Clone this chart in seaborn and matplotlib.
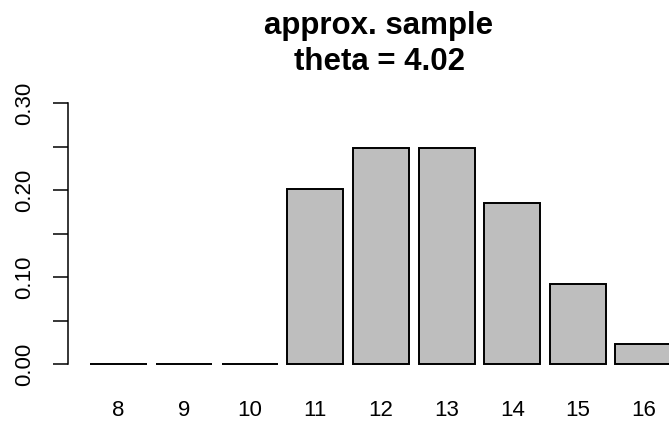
import matplotlib
matplotlib.use("Agg")
import matplotlib.pyplot as plt
import seaborn as sns
import pandas as pd

# Relative frequencies of the approximate sample
values = [8, 9, 10, 11, 12, 13, 14, 15, 16]
freqs = [0.0, 0.0, 0.0, 0.201, 0.248, 0.248, 0.185, 0.092, 0.023]
ytick_vals = [0.00, 0.05, 0.10, 0.15, 0.20, 0.25, 0.30]
ytick_labels = ["0.00", "", "0.10", "", "0.20", "", "0.30"]
title = "approx. sample\ntheta = 4.02"

sns.set_style("white")
plt.rcParams["font.family"] = ["Liberation Sans", "DejaVu Sans"]
plt.rcParams["text.color"] = "black"
plt.rcParams["xtick.color"] = "black"
plt.rcParams["ytick.color"] = "black"

df = pd.DataFrame({"value": [str(v) for v in values], "freq": freqs})

fig = plt.figure(figsize=(6.69, 4.25), dpi=100)
ax = fig.add_axes([68 / 669, 50 / 425, 601 / 669, 280 / 425])

sns.barplot(data=df, x="value", y="freq", order=[str(v) for v in values],
            color="#BEBEBE", saturation=1, width=0.855,
            edgecolor="black", linewidth=1.4, ax=ax)
for p in ax.patches:
    p.set_facecolor("#BEBEBE")
    p.set_clip_on(False)

ax.set_xlim(-0.77, 8.39)
ax.set_ylim(-0.0126, 0.3092)

for s in ["top", "right", "bottom"]:
    ax.spines[s].set_visible(False)
ax.spines["left"].set_bounds(0, 0.30)
ax.spines["left"].set_linewidth(1.1)
ax.spines["left"].set_color("black")

ax.set_yticks(ytick_vals)
ax.set_yticklabels(ytick_labels, rotation=90, va="center", fontsize=16)
ax.tick_params(axis="y", left=True, length=11, width=1.1, pad=13)
ax.tick_params(axis="x", bottom=False, length=0, labelsize=16, pad=18)

ax.set_xlabel("")
ax.set_ylabel("")
fig.text(379 / 669, 1 - 44 / 425, title, ha="center", va="center",
         fontsize=22.5, fontweight="bold", linespacing=1.22)

fig.savefig("out.png", dpi=100)
